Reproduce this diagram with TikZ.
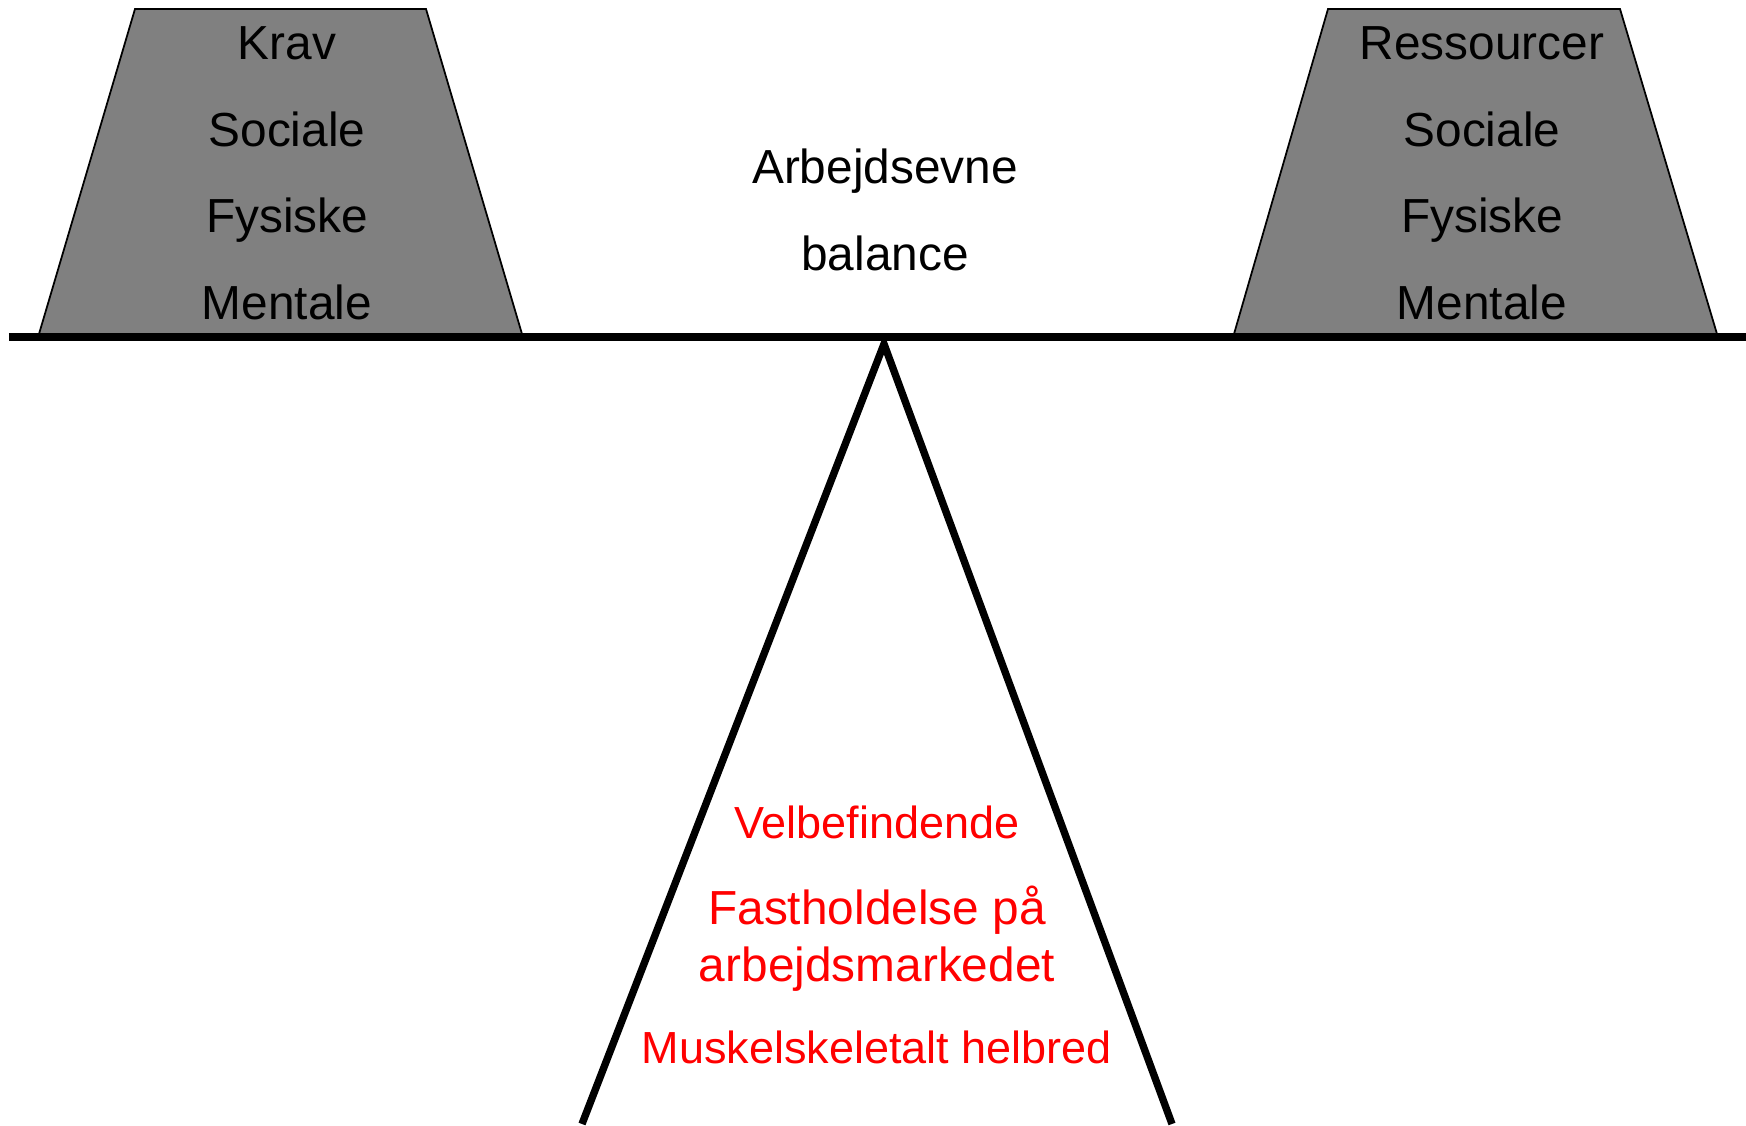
\documentclass[tikz,border=0pt]{standalone}
\usepackage{fontspec}
\setmainfont{Liberation Sans}
\usetikzlibrary{positioning}
\definecolor{weightgray}{RGB}{128,128,128}

\begin{document}
\begin{tikzpicture}[node distance=0.866cm, on grid,
    lbl/.style={font=\fontsize{13.6}{16}\selectfont, text height=.72em, text depth=0pt, inner sep=0pt},
    redlbl/.style={font=\fontsize{12.8}{15}\selectfont, text=red, text height=.72em, text depth=0pt, inner sep=0pt},
    weight/.style={fill=weightgray, draw=black, line width=0.5pt},
    beam/.style={line width=2.3pt}]
  \useasboundingbox (0,0) rectangle (17.46,11.26);

  % the two weights
  \draw[weight] (0.39,7.92) -- (1.35,11.17) -- (4.26,11.17) -- (5.22,7.92) -- cycle;
  \draw[weight] (12.34,7.92) -- (13.28,11.17) -- (16.20,11.17) -- (17.17,7.92) -- cycle;

  % beam and support
  \coordinate (beamL) at (0.09,7.89);
  \coordinate (beamR) at (17.46,7.89);
  \coordinate (top)   at (8.84,7.82);
  \coordinate (footL) at (5.82,0.02);
  \coordinate (footR) at (11.72,0.02);
  \draw[beam, line width=2.1pt, line join=miter] (footL) -- (top) -- (footR);
  \draw[beam] (beamL) -- (beamR);

  \node[lbl] (krav)            at (2.87,10.79) {Krav};
  \node[lbl] (socK) [below=of krav] {Sociale};
  \node[lbl] (fysK) [below=of socK] {Fysiske};
  \node[lbl] (menK) [below=of fysK] {Mentale};

  \node[lbl] (ress)            at (14.82,10.79) {Ressourcer};
  \node[lbl] (socR) [below=of ress] {Sociale};
  \node[lbl] (fysR) [below=of socR] {Fysiske};
  \node[lbl] (menR) [below=of fysR] {Mentale};

  \node[lbl] (arb)             at (8.85,9.55) {Arbejdsevne};
  \node[lbl] (bal)  [below=of arb] {balance};

  \node[redlbl] (velb)                   at (8.77,3.00) {Velbefindende};
  \node[redlbl, font=\fontsize{13.6}{16}\selectfont] (fast) [below=0.857cm of velb] {Fastholdelse på};
  \node[redlbl, font=\fontsize{13.6}{16}\selectfont] (arbm) [below=0.568cm of fast] {arbejdsmarkedet};
  \node[redlbl] (musk) [below=0.824cm of arbm] {Muskelskeletalt helbred};
\end{tikzpicture}
\end{document}
